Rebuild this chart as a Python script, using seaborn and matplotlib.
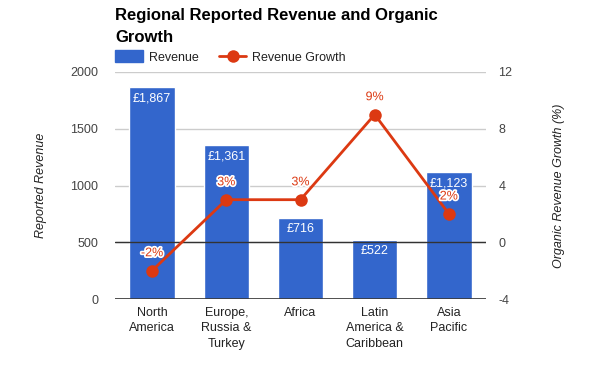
import matplotlib
matplotlib.use("Agg")
import matplotlib.pyplot as plt
import matplotlib.patheffects as pe
import seaborn as sns
import pandas as pd
from matplotlib.patches import Patch
from matplotlib.lines import Line2D

categories = ["North\nAmerica", "Europe,\nRussia &\nTurkey", "Africa", "Latin\nAmerica &\nCaribbean", "Asia\nPacific"]
revenue = [1867, 1361, 716, 522, 1123]
growth = [-2, 3, 3, 9, 2]
left_ticks = [0, 500, 1000, 1500, 2000]
right_ticks = [-4, 0, 4, 8, 12]

BLUE = "#3366CC"
RED = "#DC3912"
TXT = "#444444"

sns.set_theme(style="white")
plt.rcParams["font.family"] = ["Liberation Sans", "DejaVu Sans"]
plt.rcParams["axes.unicode_minus"] = False

fig = plt.figure(figsize=(6, 3.71), dpi=100)
ax = fig.add_axes([115/600, 1-299/371, 371/600, 227/371])

df = pd.DataFrame({"cat": categories, "rev": revenue})
sns.barplot(data=df, x="cat", y="rev", color=BLUE, saturation=1, width=0.61, ax=ax, zorder=2)
ax.set_ylim(0, 2000)
ax.set_xlim(-0.5, 4.5)
ax.set_yticks(left_ticks)
ax.yaxis.grid(True, color="#CCCCCC", linewidth=1, zorder=0)
ax.set_axisbelow(True)
for s in ax.spines.values():
    s.set_visible(False)
ax.axhline(0, color="#333333", linewidth=1.2, zorder=3)
ax.axhline(500, color="#333333", linewidth=1, zorder=3)
ax.tick_params(axis="both", length=0, labelsize=9, colors=TXT, pad=6)
ax.tick_params(axis="y", pad=12)
ax.set_xlabel("")
ax.set_ylabel("Reported Revenue", fontstyle="italic", fontsize=9, color="#222222", labelpad=17)
for lbl in ax.get_xticklabels():
    lbl.set_linespacing(1.35)
    lbl.set_color("#222222")

for i, v in enumerate(revenue):
    ax.annotate(f"£{v:,}", (i, v), xytext=(0, -4), textcoords="offset points",
                ha="center", va="top", color="white", fontsize=9, zorder=5)

ax2 = ax.twinx()
ax2.set_ylim(-4, 12)
ax2.set_yticks(right_ticks)
sns.lineplot(x=list(range(len(growth))), y=growth, color=RED, linewidth=2, marker="o",
             markersize=9, markeredgewidth=0, ax=ax2, zorder=4)
for s in ax2.spines.values():
    s.set_visible(False)
ax2.tick_params(axis="both", length=0, labelsize=9, colors=TXT, pad=9)
ax2.set_ylabel("Organic Revenue Growth (%)", fontstyle="italic", fontsize=9, color="#222222", labelpad=29)
for i, g in enumerate(growth):
    ax2.annotate(f"{g}%", (i, g), xytext=(0, 12.5), textcoords="offset points",
                 ha="center", va="center", color=RED, fontsize=9, zorder=6,
                 path_effects=[pe.withStroke(linewidth=2.5, foreground="white")])

fig.text(115/600, 1-8/371, "Regional Reported Revenue and Organic\nGrowth", fontsize=12,
         fontweight="bold", color="black", va="top", ha="left", linespacing=1.55)

handles = [Patch(color=BLUE, label="Revenue"),
           Line2D([0], [0], color=RED, linewidth=2, marker="o", markersize=9, markeredgewidth=0, label="Revenue Growth")]
fig.legend(handles=handles, loc="center left", bbox_to_anchor=(104/600, 1-57/371), ncol=2,
           frameon=False, fontsize=9, handlelength=2.2, handleheight=1.1, handletextpad=0.5,
           columnspacing=1.6, labelcolor="#222222")

fig.savefig("out.png", dpi=100, facecolor="white")
